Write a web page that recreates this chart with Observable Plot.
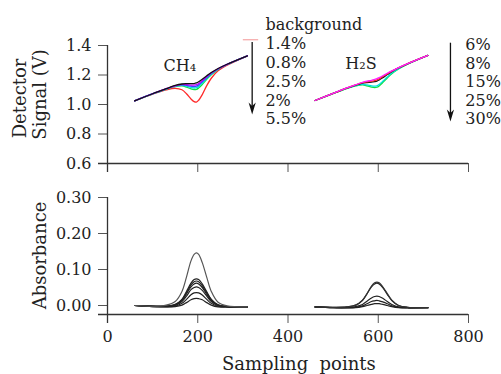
<!DOCTYPE html>
<html>
<head>
<meta charset="utf-8">
<script src="https://cdn.jsdelivr.net/npm/d3@7"></script>
<script src="https://cdn.jsdelivr.net/npm/@observablehq/plot@0.6"></script>
<style>
  html, body { margin: 0; padding: 0; background: white; }
  #chart svg { display: block; overflow: visible; }
</style>
</head>
<body>
<div id="chart"></div>
<script>
// ---------- data ----------
const xTicks = [0, 200, 400, 600, 800];
const signalTicks = [0.6, 0.8, 1.0, 1.2, 1.4];
const absTicks = [0, 0.1, 0.2, 0.3];

const ch4X = [60, 100, 130, 150, 165, 175, 185, 192, 197, 202, 210, 220, 230, 245, 265, 310];
const h2sX = [460, 500, 530, 550, 565, 575, 585, 592, 597, 602, 610, 620, 630, 645, 665, 710];

// Detector signal (V), CH4 group (drawn bottom-most first)
const ch4Sig55 = [1.025, 1.070, 1.099, 1.110, 1.100, 1.073, 1.037, 1.019, 1.016, 1.029, 1.067, 1.128, 1.178, 1.228, 1.266, 1.330];
const ch4Sig2  = [1.025, 1.072, 1.105, 1.122, 1.126, 1.118, 1.106, 1.101, 1.102, 1.112, 1.136, 1.171, 1.202, 1.238, 1.271, 1.330];
const ch4Sig25 = [1.025, 1.072, 1.105, 1.124, 1.130, 1.124, 1.116, 1.112, 1.114, 1.123, 1.146, 1.177, 1.206, 1.239, 1.271, 1.330];
const ch4Sig08 = [1.025, 1.073, 1.106, 1.126, 1.133, 1.130, 1.124, 1.121, 1.124, 1.133, 1.154, 1.183, 1.210, 1.241, 1.272, 1.330];
const ch4Sig14 = [1.025, 1.073, 1.107, 1.127, 1.136, 1.135, 1.132, 1.131, 1.134, 1.142, 1.162, 1.188, 1.213, 1.242, 1.272, 1.330];
const ch4SigBg = [1.025, 1.073, 1.107, 1.129, 1.139, 1.141, 1.141, 1.142, 1.146, 1.154, 1.171, 1.195, 1.217, 1.244, 1.273, 1.330];

// Detector signal (V), H2S group
const h2sSig30 = [1.027, 1.074, 1.108, 1.126, 1.133, 1.127, 1.118, 1.115, 1.117, 1.126, 1.149, 1.180, 1.209, 1.241, 1.274, 1.333];
const h2sSig25 = [1.027, 1.075, 1.109, 1.128, 1.136, 1.133, 1.126, 1.124, 1.127, 1.136, 1.157, 1.186, 1.213, 1.243, 1.275, 1.333];
const h2sSig15 = [1.027, 1.075, 1.111, 1.132, 1.145, 1.149, 1.151, 1.155, 1.159, 1.166, 1.182, 1.203, 1.223, 1.248, 1.276, 1.333];
const h2sSig8  = [1.027, 1.075, 1.111, 1.133, 1.148, 1.153, 1.158, 1.162, 1.167, 1.174, 1.189, 1.208, 1.226, 1.249, 1.277, 1.333];
const h2sSig6  = [1.027, 1.076, 1.112, 1.134, 1.150, 1.158, 1.164, 1.170, 1.175, 1.182, 1.195, 1.212, 1.228, 1.250, 1.277, 1.333];

// Absorbance, CH4 group
const ch4Abs1 = [0.000, -0.002, 0.001, 0.011, 0.039, 0.079, 0.124, 0.142, 0.146, 0.142, 0.119, 0.078, 0.039, 0.009, -0.001, -0.004];
const ch4Abs2 = [0.000, -0.002, -0.002, 0.003, 0.017, 0.039, 0.062, 0.072, 0.074, 0.072, 0.060, 0.038, 0.017, 0.002, -0.003, -0.004];
const ch4Abs3 = [0.000, -0.002, -0.002, 0.002, 0.016, 0.035, 0.057, 0.066, 0.068, 0.066, 0.055, 0.035, 0.016, 0.001, -0.003, -0.004];
const ch4Abs4 = [0.000, -0.002, -0.002, 0.001, 0.014, 0.032, 0.052, 0.060, 0.062, 0.060, 0.050, 0.031, 0.014, 0.001, -0.003, -0.004];
const ch4Abs5 = [0.000, -0.002, -0.003, 0.000, 0.011, 0.026, 0.044, 0.050, 0.052, 0.050, 0.042, 0.026, 0.011, 0.000, -0.003, -0.004];
const ch4Abs6 = [0.000, -0.003, -0.003, -0.002, 0.006, 0.017, 0.030, 0.035, 0.036, 0.035, 0.029, 0.017, 0.006, -0.002, -0.004, -0.004];
const ch4Abs7 = [0.000, -0.003, -0.004, -0.003, 0.001, 0.008, 0.016, 0.019, 0.020, 0.019, 0.016, 0.008, 0.001, -0.004, -0.004, -0.004];

// Absorbance, H2S group
const h2sAbs1 = [-0.004, -0.005, -0.004, 0.001, 0.015, 0.033, 0.054, 0.063, 0.065, 0.063, 0.052, 0.033, 0.015, 0.000, -0.005, -0.006];
const h2sAbs2 = [-0.004, -0.005, -0.004, 0.001, 0.014, 0.032, 0.052, 0.060, 0.062, 0.060, 0.050, 0.031, 0.014, 0.000, -0.005, -0.006];
const h2sAbs3 = [-0.004, -0.006, -0.006, -0.003, 0.003, 0.012, 0.021, 0.025, 0.026, 0.025, 0.020, 0.011, 0.003, -0.004, -0.006, -0.006];
const h2sAbs4 = [-0.004, -0.006, -0.006, -0.005, -0.001, 0.005, 0.011, 0.013, 0.014, 0.013, 0.010, 0.005, -0.001, -0.005, -0.006, -0.006];
const h2sAbs5 = [-0.004, -0.006, -0.007, -0.006, -0.003, 0.000, 0.003, 0.005, 0.005, 0.005, 0.003, 0.000, -0.003, -0.006, -0.007, -0.006];

const ch4Legend = ["background", "1.4%", "0.8%", "2.5%", "2%", "5.5%"];
const h2sLegend = ["6%", "8%", "15%", "25%", "30%"];

// ---------- helpers ----------
const rows = (xs, ys) => xs.map((x, i) => ({x, y: ys[i]}));
const FONT = "DejaVu Serif";
const AX = "#333";
const arrowHead = {
  draw(ctx) {
    ctx.moveTo(0, 0);
    ctx.lineTo(-3.6, -12);
    ctx.lineTo(0, -8.5);
    ctx.lineTo(3.6, -12);
    ctx.closePath();
  }
};
const sigLine = (xs, ys, color) =>
  Plot.line(rows(xs, ys), {x: "x", y: "y", stroke: color, strokeWidth: 1.3, curve: "catmull-rom"});
const absLine = (xs, ys, color) =>
  Plot.line(rows(xs, ys), {x: "x", y: "y", stroke: color, strokeWidth: 1.2, curve: "catmull-rom"});

// ---------- top panel ----------
const topPlot = Plot.plot({
  width: 501, height: 180,
  marginLeft: 107, marginRight: 33, marginTop: 45, marginBottom: 17,
  style: {fontFamily: FONT, fontSize: "16px", color: "#222", background: "white", overflow: "visible"},
  x: {domain: [0, 800]},
  y: {domain: [0.6, 1.4]},
  marks: [
    Plot.axisX({ticks: xTicks, tickSize: 9, tickFormat: () => "", label: null, stroke: "#555"}),
    Plot.axisY({ticks: signalTicks, tickSize: 9, tickPadding: 7, tickFormat: d3.format(".1f"), label: null, stroke: "#555", fontSize: 16}),
    Plot.ruleX([0], {insetBottom: -9, stroke: AX, strokeWidth: 1.3}),
    Plot.ruleY([0.6], {insetLeft: -9, stroke: AX, strokeWidth: 1.3}),
    // CH4 group
    sigLine(ch4X, ch4Sig55, "#ff2a2a"),
    sigLine(ch4X, ch4Sig2, "#10e040"),
    sigLine(ch4X, ch4Sig25, "#00e0e0"),
    sigLine(ch4X, ch4Sig08, "#4040ff"),
    sigLine(ch4X, ch4Sig14, "#c000ff"),
    sigLine(ch4X, ch4SigBg, "#111"),
    // H2S group
    sigLine(h2sX, h2sSig30, "#10e040"),
    sigLine(h2sX, h2sSig25, "#00e0e0"),
    sigLine(h2sX, h2sSig15, "#111"),
    sigLine(h2sX, h2sSig8, "#ff2a2a"),
    sigLine(h2sX, h2sSig6, "#ff20ff"),
    // annotations
    Plot.text(["CH₄"], {x: 124, y: 1.226, text: d => d, textAnchor: "start", lineAnchor: "bottom", fontSize: 16, fill: "#222"}),
    Plot.text(["H₂S"], {x: 527, y: 1.244, text: d => d, textAnchor: "start", lineAnchor: "bottom", fontSize: 16, fill: "#222"}),
    Plot.text([ch4Legend.join("\n")], {x: 350, y: 1.5925, text: d => d, textAnchor: "start", lineAnchor: "top", lineHeight: 1.175, fontSize: 16, fill: "#222"}),
    Plot.text([h2sLegend.join("\n")], {x: 793, y: 1.457, text: d => d, textAnchor: "start", lineAnchor: "top", lineHeight: 1.16, fontSize: 16, fill: "#222"}),
    Plot.ruleY([1.439], {x1: 301, x2: 335, stroke: "#f5a5a5", strokeWidth: 1.2}),
    Plot.ruleX([320.6], {y1: 1.42, y2: 0.96, stroke: "#111", strokeWidth: 1.3}),
    Plot.dot([320.6], {x: d => d, y: 0.932, symbol: arrowHead, fill: "#111", stroke: null}),
    Plot.ruleX([760], {y1: 1.4156, y2: 0.91, stroke: "#111", strokeWidth: 1.3}),
    Plot.dot([760], {x: d => d, y: 0.885, symbol: arrowHead, fill: "#111", stroke: null}),
    Plot.text(["Detector"], {x: -193, y: 1.041, text: d => d, rotate: -90, textAnchor: "middle", lineAnchor: "middle", fontSize: 18, fill: "#222"}),
    Plot.text(["Signal (V)"], {x: -148.5, y: 1.068, text: d => d, rotate: -90, textAnchor: "middle", lineAnchor: "middle", fontSize: 18, fill: "#222"})
  ]
});

// ---------- bottom panel ----------
const bottomPlot = Plot.plot({
  width: 501, height: 194,
  marginLeft: 107, marginRight: 33, marginTop: 17, marginBottom: 60,
  style: {fontFamily: FONT, fontSize: "16px", color: "#222", background: "white", overflow: "visible"},
  x: {domain: [0, 800]},
  y: {domain: [-0.025, 0.30]},
  marks: [
    Plot.axisX({ticks: xTicks, tickSize: 9, tickPadding: 7, tickFormat: d3.format("d"), label: null, stroke: "#555", fontSize: 16}),
    Plot.axisY({ticks: absTicks, tickSize: 9, tickPadding: 7, tickFormat: d3.format(".2f"), label: null, stroke: "#555", fontSize: 16}),
    Plot.ruleX([0], {insetBottom: -9, stroke: AX, strokeWidth: 1.3}),
    Plot.ruleY([-0.025], {insetLeft: -9, stroke: AX, strokeWidth: 1.3}),
    absLine(ch4X, ch4Abs7, "#222"),
    absLine(ch4X, ch4Abs6, "#222"),
    absLine(ch4X, ch4Abs5, "#222"),
    absLine(ch4X, ch4Abs4, "#222"),
    absLine(ch4X, ch4Abs3, "#222"),
    absLine(ch4X, ch4Abs2, "#222"),
    absLine(ch4X, ch4Abs1, "#555"),
    absLine(h2sX, h2sAbs5, "#222"),
    absLine(h2sX, h2sAbs4, "#222"),
    absLine(h2sX, h2sAbs3, "#222"),
    absLine(h2sX, h2sAbs2, "#222"),
    absLine(h2sX, h2sAbs1, "#333"),
    Plot.text(["Absorbance"], {x: -148.5, y: 0.139, text: d => d, rotate: -90, textAnchor: "middle", lineAnchor: "middle", fontSize: 18, fill: "#222"}),
    Plot.text(["Sampling\u00a0 points"], {x: 424, y: -0.178, text: d => d, textAnchor: "middle", lineAnchor: "bottom", fontSize: 18, fill: "#222"})
  ]
});

const chart = document.getElementById("chart");
chart.appendChild(topPlot);
chart.appendChild(bottomPlot);
</script>
</body>
</html>
